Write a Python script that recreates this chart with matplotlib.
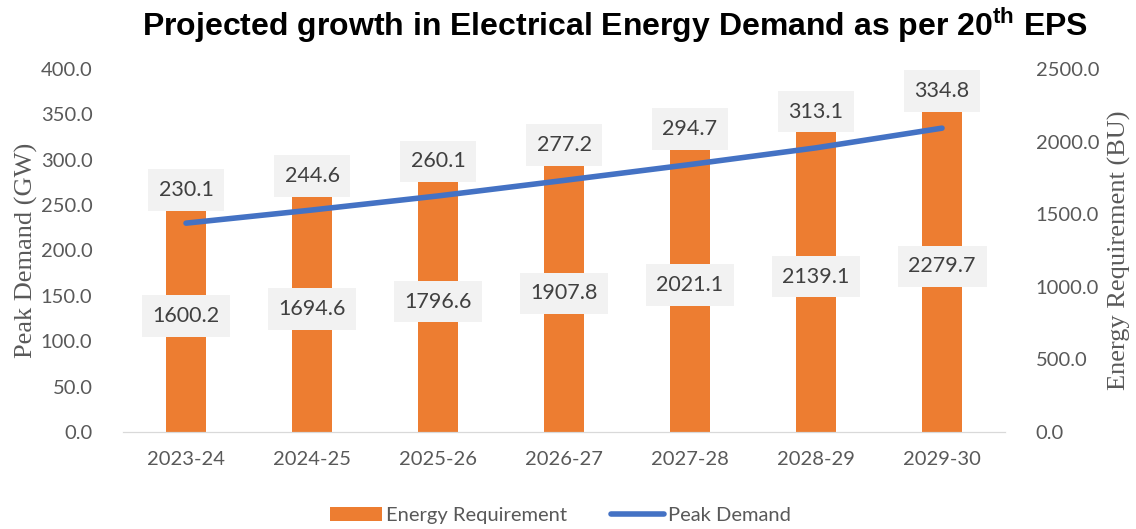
import matplotlib

matplotlib.use("Agg")
import matplotlib.pyplot as plt
import numpy as np

years = ["2023-24", "2024-25", "2025-26", "2026-27", "2027-28", "2028-29", "2029-30"]
energy_bu = [1600.2, 1694.6, 1796.6, 1907.8, 2021.1, 2139.1, 2279.7]
peak_gw = [230.1, 244.6, 260.1, 277.2, 294.7, 313.1, 334.8]

ORANGE = "#ED7D31"
BLUE = "#4472C4"
TICK_GREY = "#595959"
LABEL_TEXT = "#404040"
BOX_FILL = "#F2F2F2"
UI_FONT = ["Lato", "DejaVu Sans"]
SERIF = ["Liberation Serif", "DejaVu Serif"]

plt.rcParams["mathtext.fontset"] = "custom"
plt.rcParams["mathtext.rm"] = "Liberation Sans:bold"

fig = plt.figure(figsize=(11.36, 5.29), dpi=100)
ax = fig.add_axes([0.1083, 0.1834, 0.7764, 0.6862])
ax2 = ax.twinx()

x = np.arange(len(years))

# bars on the right axis, line on the left axis drawn above them
ax2.bar(x, energy_bu, width=0.32, color=ORANGE, zorder=2, label="Energy Requirement")
ax.set_zorder(ax2.get_zorder() + 1)
ax.patch.set_visible(False)
ax.plot(x, peak_gw, color=BLUE, linewidth=4, solid_capstyle="round", zorder=3, label="Peak Demand")

ax.set_xlim(-0.5, len(years) - 0.5)
ax.set_ylim(0, 400)
ax2.set_ylim(0, 2500)
ax.set_yticks(np.arange(0, 401, 50))
ax2.set_yticks(np.arange(0, 2501, 500))
ax.set_yticklabels([f"{v:.1f}" for v in np.arange(0, 401, 50)])
ax2.set_yticklabels([f"{v:.1f}" for v in np.arange(0, 2501, 500)])
ax.set_xticks(x)
ax.set_xticklabels(years)

for a in (ax, ax2):
    for side in ("top", "left", "right"):
        a.spines[side].set_visible(False)
    a.spines["bottom"].set_color("#D9D9D9")
    a.tick_params(length=0, colors=TICK_GREY, labelsize=14.5)
    for lbl in a.get_xticklabels() + a.get_yticklabels():
        lbl.set_family(UI_FONT)
ax.tick_params(axis="x", pad=14)
ax.tick_params(axis="y", pad=22)
ax2.tick_params(axis="y", pad=22)

ax.set_ylabel("Peak Demand (GW)", family=SERIF, fontsize=19, color=TICK_GREY, labelpad=2)
ax2.set_ylabel("Energy Requirement (BU)", family=SERIF, fontsize=19, color=TICK_GREY, labelpad=6)

box = dict(boxstyle="square,pad=0.5", facecolor=BOX_FILL, edgecolor="none")
for i in range(len(years)):
    # energy value in the middle of each bar
    ax2.text(i, energy_bu[i] / 2, f"{energy_bu[i]:.1f}", ha="center", va="center",
             fontsize=15.5, color=LABEL_TEXT, family=UI_FONT, bbox=box, zorder=4)
    # peak value sits on top of each bar
    ax.annotate(f"{peak_gw[i]:.1f}", xy=(i, energy_bu[i]), xycoords=ax2.transData,
                xytext=(0, 7), textcoords="offset points", ha="center", va="center",
                fontsize=15.5, color=LABEL_TEXT, family=UI_FONT, bbox=box, zorder=5)

fig.text(0.541, 0.953, r"Projected growth in Electrical Energy Demand as per 20$^{\mathrm{th}}$ EPS",
         ha="center", va="center", fontsize=23, fontweight="bold", family="Liberation Sans")

handles = ax2.get_legend_handles_labels()[0] + ax.get_legend_handles_labels()[0]
leg = fig.legend(handles, ["Energy Requirement", "Peak Demand"], loc="center",
                 bbox_to_anchor=(0.493, 0.026), ncol=2, frameon=False,
                 prop={"family": UI_FONT, "size": 14.5}, handlelength=2.6,
                 handletextpad=0.2, columnspacing=2.2)
for t in leg.get_texts():
    t.set_color(TICK_GREY)

fig.savefig("out.png", dpi=100)
